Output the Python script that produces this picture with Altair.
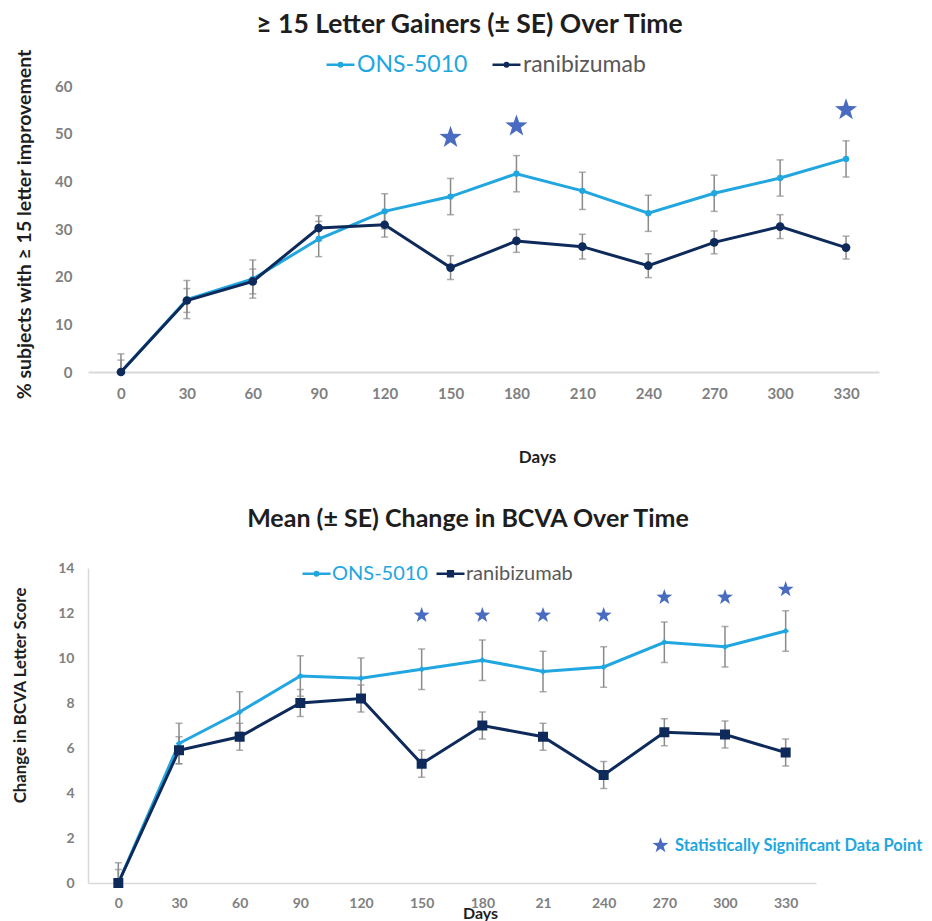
import altair as alt
import pandas as pd

# ---------------- data ----------------
series = ["ONS-5010", "ranibizumab"]
days_top = ["0", "30", "60", "90", "120", "150", "180", "210", "240", "270", "300", "330"]
days_bottom = ["0", "30", "60", "90", "120", "150", "180", "21", "240", "270", "300", "330"]

gain_ons = [0, 15.2, 19.5, 27.9, 33.7, 36.8, 41.6, 38.0, 33.3, 37.5, 40.7, 44.7]
gain_ons_se = [3.8, 4.0, 4.0, 3.7, 3.7, 3.8, 3.8, 3.9, 3.8, 3.8, 3.8, 3.8]
gain_ran = [0, 15.0, 19.0, 30.2, 30.9, 21.9, 27.5, 26.3, 22.3, 27.2, 30.5, 26.1]
gain_ran_se = [2.5, 2.5, 2.6, 2.6, 2.6, 2.5, 2.4, 2.6, 2.5, 2.4, 2.5, 2.4]
gain_star_days = ["150", "180", "330"]
gain_star_y = [49.2, 51.6, 55.0]

bcva_ons = [0, 6.2, 7.6, 9.2, 9.1, 9.5, 9.9, 9.4, 9.6, 10.7, 10.5, 11.2]
bcva_ons_se = [0.9, 0.9, 0.9, 0.9, 0.9, 0.9, 0.9, 0.9, 0.9, 0.9, 0.9, 0.9]
bcva_ran = [0, 5.9, 6.5, 8.0, 8.2, 5.3, 7.0, 6.5, 4.8, 6.7, 6.6, 5.8]
bcva_ran_se = [0.6, 0.6, 0.6, 0.6, 0.6, 0.6, 0.6, 0.6, 0.6, 0.6, 0.6, 0.6]
bcva_star_days = ["150", "180", "21", "240", "270", "300", "330"]
bcva_star_y = [11.9, 11.9, 11.9, 11.9, 12.7, 12.7, 13.05]
sig_label = "Statistically Significant Data Point"

# ---------------- styles ----------------
C_ONS = "#22A6E0"
C_RAN = "#0E2A5B"
C_STAR = "#4A6CC0"
C_ERR = "#8A8A8A"
C_LAB = "#808080"
C_TIT = "#1E1E1E"
FONT = "Lato"
STAR = ("M0,-1L0.235,-0.324L0.951,-0.309L0.38,0.124L0.588,0.809L0,0.4"
        "L-0.588,0.809L-0.38,0.124L-0.951,-0.309L-0.235,-0.324Z")
SYM_DOT = "M-1,0L1,0M0.12,0A0.12,0.12 0 1,1 -0.12,0A0.12,0.12 0 1,1 0.12,0Z"
SYM_SQ = "M-1,0L1,0M-0.17,-0.17L0.17,-0.17L0.17,0.17L-0.17,0.17Z"


def long_df(days, ons, ons_se, ran, ran_se):
    rows = []
    for name, vals, ses in [(series[0], ons, ons_se), (series[1], ran, ran_se)]:
        for d, v, s in zip(days, vals, ses):
            rows.append({"day": d, "series": name, "value": v, "lo": v - s, "hi": v + s})
    return pd.DataFrame(rows)


top_df = long_df(days_top, gain_ons, gain_ons_se, gain_ran, gain_ran_se)
bot_df = long_df(days_bottom, bcva_ons, bcva_ons_se, bcva_ran, bcva_ran_se)
top_star = pd.DataFrame({"day": gain_star_days, "y": gain_star_y})
bot_star = pd.DataFrame({"day": bcva_star_days, "y": bcva_star_y, "sig": sig_label})

color_scale = alt.Scale(domain=series, range=[C_ONS, C_RAN])
label_color = {"expr": "datum.label == 'ONS-5010' ? '%s' : '#595959'" % C_ONS}


def panel(df, days, ymax, w, h, ax_x, ax_y, legend, star_layer, pt_shapes, pt_sizes):
    x = alt.X("day:N", sort=days, scale=alt.Scale(type="point", padding=0.5, domain=days), axis=ax_x)
    yscale = alt.Scale(domain=[0, ymax], nice=False)
    base = alt.Chart(df)
    line = base.mark_line(strokeWidth=3).encode(
        x=x, y=alt.Y("value:Q", scale=yscale, axis=ax_y),
        color=alt.Color("series:N", scale=color_scale, legend=legend))
    err = base.mark_rule(color=C_ERR, strokeWidth=1.5, clip=True).encode(
        x=x, y="lo:Q", y2="hi:Q")
    cap_lo = base.mark_tick(color=C_ERR, thickness=1.5, size=7, clip=True).encode(x=x, y="lo:Q")
    cap_hi = base.mark_tick(color=C_ERR, thickness=1.5, size=7, clip=True).encode(x=x, y="hi:Q")
    pts = []
    for s, shp, sz in zip(series, pt_shapes, pt_sizes):
        pts.append(base.transform_filter(alt.datum.series == s)
                   .mark_point(filled=True, opacity=1, shape=shp, size=sz)
                   .encode(x=x, y="value:Q", color=alt.Color("series:N", scale=color_scale)))
    return alt.layer(line, err, cap_lo, cap_hi, *pts, star_layer(x)).properties(width=w, height=h)


# ---------- top panel ----------
top_ax_x = alt.Axis(labelAngle=0, ticks=False, domainColor="#D9D9D9", domainWidth=2, labelPadding=14,
                    labelFont=FONT, labelFontSize=15, labelFontWeight="bold", labelColor=C_LAB,
                    title="Days", titleFont=FONT, titleFontSize=17, titleFontWeight="bold",
                    titleColor=C_TIT, titleX=449, titleY=85, titleBaseline="middle")
top_ax_y = alt.Axis(values=[0, 10, 20, 30, 40, 50, 60], domain=False, ticks=False, grid=False,
                    labelPadding=16, labelFont=FONT, labelFontSize=15, labelFontWeight="bold",
                    labelColor=C_LAB, title="% subjects with ≥ 15 letter improvement",
                    titleFont=FONT, titleFontSize=19.5, titleFontWeight="bold", titleColor=C_TIT,
                    titleX=-64, titleY=138, titleBaseline="middle")
top_legend = alt.Legend(orient="none", legendX=237, legendY=-37, direction="horizontal", title=None,
                        symbolType=SYM_DOT, symbolSize=784, symbolStrokeWidth=2.5,
                        labelFont=FONT, labelFontSize=23, labelColor=label_color,
                        labelOffset=1, columnPadding=19)


def top_stars(x):
    return alt.Chart(top_star).mark_point(filled=True, opacity=1, shape=STAR, size=540, color=C_STAR).encode(
        x=x, y="y:Q")


top = panel(top_df, days_top, 60, 791, 286, top_ax_x, top_ax_y, top_legend, top_stars,
            ["circle", "circle"], [40, 75]).properties(
    title=alt.Title("≥ 15 Letter Gainers (± SE) Over Time", font=FONT, fontSize=26.5, fontWeight="bold",
                    color=C_TIT, anchor="middle", dx=-14, offset=10))

# ---------- bottom panel ----------
bot_ax_x = alt.Axis(labelAngle=0, ticks=False, domainColor="#D9D9D9", domainWidth=1.5, labelPadding=13,
                    labelFont=FONT, labelFontSize=14, labelFontWeight="bold", labelColor=C_LAB,
                    title="Days", titleFont=FONT, titleFontSize=16, titleFontWeight="bold",
                    titleColor=C_TIT, titleX=392, titleY=30, titleBaseline="middle")
bot_ax_y = alt.Axis(values=[0, 2, 4, 6, 8, 10, 12, 14], domain=True, domainColor="#D9D9D9", domainWidth=1.5,
                    ticks=False, grid=False, labelPadding=14, labelFont=FONT, labelFontSize=14,
                    labelFontWeight="bold", labelColor=C_LAB, title="Change in BCVA Letter Score",
                    titleFont=FONT, titleFontSize=16.8, titleFontWeight="bold", titleColor=C_TIT,
                    titleX=-68, titleY=127, titleBaseline="middle")
bot_legend = alt.Legend(orient="none", legendX=213, legendY=-10, direction="horizontal", title=None,
                        symbolType={"expr": "datum.value == 'ranibizumab' ? '%s' : '%s'" % (SYM_SQ, SYM_DOT)},
                        symbolSize=784, symbolStrokeWidth=2.5,
                        labelFont=FONT, labelFontSize=20, labelColor=label_color,
                        labelOffset=0, columnPadding=3)


def bot_stars(x):
    return alt.Chart(bot_star).mark_point(filled=True, opacity=1, size=280, color=C_STAR).encode(
        x=x, y="y:Q",
        shape=alt.Shape("sig:N", scale=alt.Scale(domain=[sig_label], range=[STAR]),
                        legend=alt.Legend(orient="none", legendX=564, legendY=269, title=None,
                                          symbolSize=280, symbolFillColor=C_STAR, symbolStrokeWidth=0,
                                          labelFont=FONT, labelFontSize=16.5, labelFontWeight="bold",
                                          labelColor=C_ONS, labelOffset=6, labelLimit=0)))


bottom = panel(bot_df, days_bottom, 14, 728, 315, bot_ax_x, bot_ax_y, bot_legend, bot_stars,
               ["diamond", "square"], [45, 100]).properties(
    title=alt.Title("Mean (± SE) Change in BCVA Over Time", font=FONT, fontSize=25, fontWeight="bold",
                    color=C_TIT, anchor="middle", dx=16, offset=26))

chart = alt.vconcat(top, bottom, spacing=42).resolve_scale(color="independent", shape="independent").configure_view(
    strokeWidth=0).properties(padding={"left": 3, "top": 4, "right": 0, "bottom": 0})

chart.save("out.html", embed_options={"renderer": "svg", "actions": False})
